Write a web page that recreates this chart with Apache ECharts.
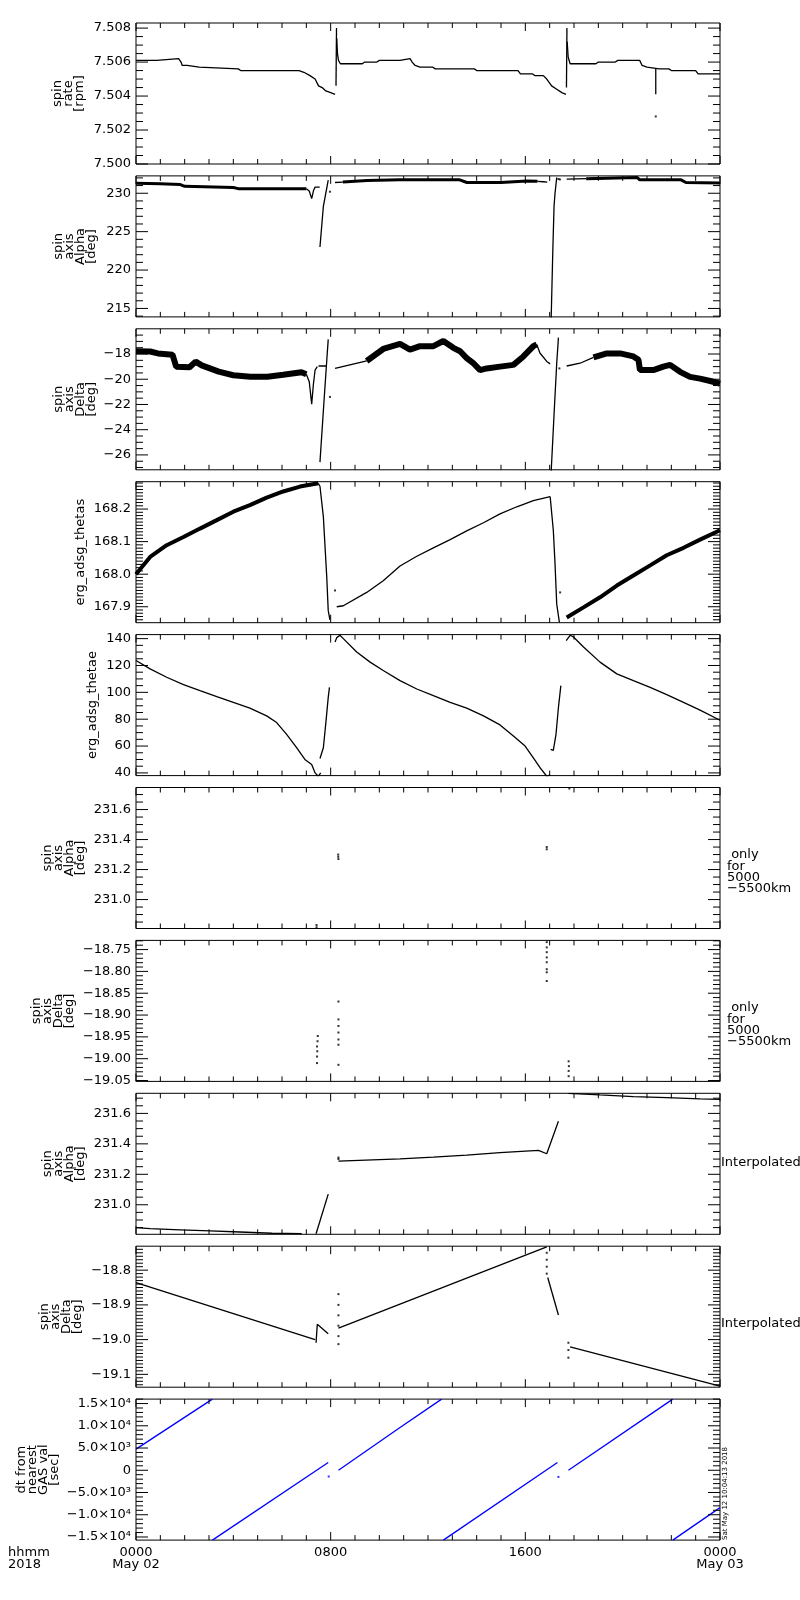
<!DOCTYPE html>
<html>
<head>
<meta charset="utf-8">
<title>ERG spin axis 2018-05-02</title>
<script src="https://cdn.jsdelivr.net/npm/echarts@6.0.0/dist/echarts.min.js"></script>
<style>
  html, body { margin: 0; padding: 0; background: #fff; }
  #main { width: 800px; height: 1600px; }
</style>
</head>
<body>
<div id="main"></div>
<script>
// x axis: hours since 0000 May 02 2018
var hourTicks = [0, 8, 16, 24];
var hourLabels = ['0000\nMay 02', '0800', '1600', '0000\nMay 03'];

// panel 1: spin rate [rpm]
var rateTicks = [7.500, 7.502, 7.504, 7.506, 7.508];
var rateLine = [
  [[0, 7.5061], [0.85, 7.5061], [0.9, 7.5062], [1.75, 7.5062], [1.85, 7.5060], [1.9, 7.5058], [2.1, 7.5058], [2.15, 7.5057], [2.6, 7.5057], [2.65, 7.5056], [4.2, 7.5056], [4.3, 7.5055], [6.7, 7.5055], [6.9, 7.5054], [7.15, 7.5052], [7.36, 7.5050], [7.5, 7.5046], [7.65, 7.5045], [7.8, 7.5043], [8.0, 7.5042], [8.18, 7.5041]],
  [[8.22, 7.5046], [8.24, 7.5080]],
  [[8.25, 7.5074], [8.28, 7.5065], [8.32, 7.5061], [8.4, 7.5059], [9.3, 7.5059], [9.4, 7.5060], [9.9, 7.5060], [10.0, 7.5061], [10.85, 7.5061], [10.9, 7.5062], [11.26, 7.5062], [11.35, 7.5060], [11.47, 7.5058], [11.67, 7.5057], [12.2, 7.5057], [12.3, 7.5056], [13.9, 7.5056], [14.0, 7.5055], [15.7, 7.5055], [15.8, 7.5053], [16.3, 7.5053], [16.4, 7.5052], [16.74, 7.5052], [16.88, 7.5050], [17.08, 7.5046], [17.29, 7.5044], [17.5, 7.5042], [17.67, 7.5041]],
  [[17.69, 7.5045], [17.71, 7.5080]],
  [[17.72, 7.5072], [17.76, 7.5063], [17.84, 7.5059], [18.9, 7.5059], [19.0, 7.5060], [19.7, 7.5060], [19.8, 7.5061], [20.7, 7.5061], [20.8, 7.5058], [21.0, 7.5057], [21.5, 7.5056], [21.9, 7.5056], [22.0, 7.5055], [23.0, 7.5055], [23.1, 7.5053], [24, 7.5053]],
  [[21.36, 7.5056], [21.36, 7.5041]]
];
var rateDots = [[21.36, 7.5028]];

// panel 2: spin axis Alpha [deg]
var alphaTicks = [215, 220, 225, 230];
var alphaBand = [
  [[0, 231.3], [1.0, 231.25], [1.8, 231.15], [2.0, 230.9], [4.0, 230.75], [4.2, 230.6], [7.0, 230.6]],
  [[8.5, 231.45], [9.5, 231.65], [10.85, 231.75], [13.3, 231.75], [13.6, 231.4], [15.0, 231.4], [16.06, 231.6], [16.5, 231.55]],
  [[18.5, 231.9], [18.55, 232.05], [20.6, 232.05], [20.7, 231.75], [22.4, 231.75], [22.6, 231.4], [24, 231.35]]
];
var alphaLine = [
  [[7.0, 230.6], [7.12, 230.3], [7.22, 229.3], [7.3, 230.4], [7.36, 230.8], [7.55, 230.8]],
  [[7.56, 223.0], [7.7, 228.3], [7.9, 231.7]],
  [[8.18, 231.4], [8.5, 231.45]],
  [[16.5, 231.55], [16.74, 231.5], [16.9, 231.45]],
  [[17.06, 213.5], [17.13, 222.6], [17.18, 228.3], [17.22, 230.0], [17.29, 232.05]],
  [[17.7, 231.85], [18.5, 231.9]]
];
var alphaDots = [[7.97, 230.2], [17.36, 231.85], [17.42, 231.8]];

// panel 3: spin axis Delta [deg]
var deltaTicks = [-26, -24, -22, -20, -18];
var deltaBand = [
  [[0, -17.78], [0.58, -17.8], [0.9, -17.95], [1.5, -18.05], [1.65, -19.0], [2.2, -19.05], [2.45, -18.6], [2.7, -18.9], [3.4, -19.4], [4.0, -19.68], [4.7, -19.8], [5.4, -19.8], [6.05, -19.65], [6.8, -19.45], [7.0, -19.6]],
  [[9.48, -18.55], [10.16, -17.6], [10.85, -17.2], [11.26, -17.65], [11.67, -17.38], [12.22, -17.38], [12.63, -16.97], [13.04, -17.51], [13.32, -17.78], [13.59, -18.32], [13.86, -18.73], [14.14, -19.27], [14.41, -19.14], [14.96, -19.0], [15.51, -18.86], [15.92, -18.19], [16.33, -17.38], [16.47, -17.24]],
  [[18.8, -18.27], [19.35, -17.95], [19.9, -17.95], [20.44, -18.19], [20.65, -18.46], [20.71, -19.27], [21.26, -19.27], [21.67, -19.0], [21.95, -18.86], [22.36, -19.41], [22.77, -19.81], [23.18, -19.95], [23.6, -20.14], [24, -20.35]]
];
var deltaLine = [
  [[7.0, -19.6], [7.12, -20.2], [7.22, -21.97], [7.29, -20.4], [7.36, -19.27], [7.45, -19.0]],
  [[7.5, -18.95], [7.84, -18.95]],
  [[7.56, -26.57], [7.7, -22.5], [7.84, -18.5], [7.9, -16.84]],
  [[8.18, -19.14], [8.79, -18.86], [9.48, -18.55]],
  [[16.47, -17.24], [16.6, -17.92], [16.88, -18.59], [17.02, -18.78]],
  [[17.06, -27.4], [17.18, -22.8], [17.29, -18.73], [17.36, -16.7]],
  [[17.7, -18.95], [18.25, -18.73], [18.8, -18.27]]
];
var deltaDots = [[7.97, -21.4], [17.4, -19.14]];

// panel 4: erg_adsg_thetas
var thetasTicks = [167.9, 168.0, 168.1, 168.2];
var thetasBand = [
  [[0, 168.0], [0.58, 168.053], [1.26, 168.089], [1.95, 168.114], [2.63, 168.14], [3.32, 168.166], [4.0, 168.192], [4.68, 168.212], [5.37, 168.235], [6.05, 168.254], [6.74, 168.269], [7.49, 168.279]],
  [[17.7, 167.867], [18.39, 167.898], [19.07, 167.929], [19.76, 167.965], [20.44, 167.996], [21.13, 168.027], [21.81, 168.058], [22.5, 168.081], [23.18, 168.106], [24, 168.135]]
];
var thetasLine = [
  [[7.49, 168.279], [7.56, 168.27], [7.7, 168.176], [7.84, 167.99], [7.9, 167.888], [7.97, 167.86]],
  [[8.25, 167.9], [8.52, 167.903], [9.48, 167.944], [10.16, 167.98], [10.85, 168.025], [11.54, 168.055], [12.22, 168.081], [12.91, 168.106], [13.59, 168.133], [14.28, 168.158], [14.96, 168.185], [15.65, 168.207], [16.33, 168.226], [17.02, 168.238]],
  [[17.02, 168.238], [17.08, 168.233], [17.15, 168.135], [17.22, 168.032], [17.29, 167.908], [17.4, 167.852]]
];
var thetasDots = [[8.18, 167.95], [17.43, 167.944]];

// panel 5: erg_adsg_thetae
var thetaeTicks = [40, 60, 80, 100, 120, 140];
var thetaeLine = [
  [[0, 123.75], [0.58, 117.5], [1.26, 111.25], [1.95, 105.75], [2.63, 101.25], [3.32, 96.75], [4.0, 92.5], [4.68, 88.25], [5.37, 82.5], [5.78, 77.5], [6.19, 68.75], [6.6, 58.75], [6.94, 50], [7.22, 46.25], [7.36, 40], [7.49, 37.5], [7.59, 40]],
  [[7.56, 50.75], [7.63, 51.25], [7.7, 58.75], [7.81, 78.75], [7.9, 96.25], [7.95, 103.75]],
  [[8.18, 137.5], [8.25, 140.75], [8.38, 142.5], [8.52, 140], [9.07, 130], [9.62, 122.5], [10.16, 116.25], [10.85, 108.75], [11.54, 102.5], [12.22, 97.5], [12.91, 92.5], [13.59, 88.25], [14.28, 82.5], [14.96, 75.75], [15.51, 67.5], [15.99, 60], [16.33, 51.25], [16.61, 43.75], [16.88, 37.5], [17.02, 38.5]],
  [[17.04, 57.5], [17.15, 56.75], [17.26, 68.75], [17.36, 88.75], [17.46, 105]],
  [[17.68, 138.5], [17.84, 142.5], [17.98, 141.25], [18.39, 133.75], [19.07, 122.5], [19.76, 113.75], [20.44, 108.75], [21.13, 103.75], [21.81, 98.25], [22.5, 92.5], [23.18, 86.75], [24, 79.25]]
];

// panel 6: spin axis Alpha, only for 5000-5500km
var onlyAlphaTicks = [231.0, 231.2, 231.4, 231.6];
var onlyAlphaDots = [[7.42, 230.815], [7.42, 230.83], [8.31, 231.3], [8.31, 231.285], [8.32, 231.27], [16.88, 231.35], [16.88, 231.335], [17.81, 231.74]];

// panel 7: spin axis Delta, only for 5000-5500km
var onlyDeltaTicks = [-19.05, -19.00, -18.95, -18.90, -18.85, -18.80, -18.75];
var onlyDeltaDots = [[7.47, -18.948], [7.46, -18.96], [7.44, -18.972], [7.45, -18.983], [7.44, -18.995], [7.44, -19.01], [8.32, -18.869], [8.32, -18.91], [8.32, -18.925], [8.32, -18.94], [8.32, -18.956], [8.32, -18.968], [8.32, -19.014], [16.88, -18.733], [16.88, -18.745], [16.88, -18.756], [16.88, -18.768], [16.88, -18.779], [16.88, -18.795], [16.88, -18.802], [16.88, -18.822], [17.78, -19.006], [17.79, -19.017], [17.78, -19.028], [17.78, -19.04]];

// panel 8: spin axis Alpha, interpolated
var interpAlphaTicks = [231.0, 231.2, 231.4, 231.6];
var interpAlphaLine = [
  [[0, 230.85], [0.58, 230.843], [1.81, 230.835], [3.04, 230.828], [4.27, 230.821], [5.58, 230.813], [6.81, 230.81]],
  [[7.4, 230.81], [7.9, 231.07]],
  [[8.32, 231.287], [10.85, 231.302], [12.22, 231.313], [13.59, 231.326], [14.96, 231.342], [16.54, 231.357], [16.88, 231.335], [17.36, 231.549]],
  [[17.77, 231.732], [19.07, 231.721], [20.44, 231.71], [21.81, 231.703], [23.18, 231.695], [24, 231.692]]
];
var interpAlphaDots = [[8.32, 231.31], [8.32, 231.3]];

// panel 9: spin axis Delta, interpolated
var interpDeltaTicks = [-19.1, -19.0, -18.9, -18.8];
var interpDeltaLine = [
  [[0, -18.836], [7.36, -19.0]],
  [[7.4, -19.009], [7.45, -18.956], [7.9, -18.983]],
  [[8.32, -18.967], [10.85, -18.898], [16.88, -18.733]],
  [[16.92, -18.821], [17.36, -18.929]],
  [[17.84, -19.021], [24, -19.134]]
];
var interpDeltaDots = [[8.32, -18.869], [8.32, -18.9], [8.32, -18.93], [8.32, -18.96], [8.32, -18.99], [8.32, -19.013], [16.88, -18.75], [16.88, -18.77], [16.88, -18.79], [16.88, -18.81], [17.77, -19.009], [17.77, -19.03], [17.77, -19.052]];

// panel 10: dt from nearest GAS val [sec]
var dtTicks = [-15000, -10000, -5000, 0, 5000, 10000, 15000];
var dtTickLabels = ['\u22121.5\u00d710\u2074', '\u22121.0\u00d710\u2074', '\u22125.0\u00d710\u00b3', '0', '5.0\u00d710\u00b3', '1.0\u00d710\u2074', '1.5\u00d710\u2074'];
var dtLine = [
  [[0, 4750], [3.14, 16000]],
  [[3.14, -15700], [7.9, 1730]],
  [[8.32, 0], [10.85, 9600], [12.56, 16000]],
  [[12.63, -15700], [17.32, 1730]],
  [[17.77, 0], [22.06, 16000]],
  [[22.06, -15700], [24, -8400]]
];
var dtDots = [[7.92, -1400], [17.36, -1500]];

var FONT = '"DejaVu Sans", sans-serif';

var panels = [
  { min: 7.5, max: 7.5083, ticks: rateTicks, sub: 4, dec: 3, title: 'spin\nrate\n[rpm]', titleX: 85, lines: rateLine, dots: rateDots },
  { min: 213.9, max: 232.26, ticks: alphaTicks, sub: 5, dec: 0, title: 'spin\naxis\nAlpha\n[deg]', titleX: 97, lines: alphaLine, bands: alphaBand, bandW: 3, dots: alphaDots },
  { min: -27.18, max: -16.0, ticks: deltaTicks, sub: 4, dec: 0, title: 'spin\naxis\nDelta\n[deg]', titleX: 97, lines: deltaLine, bands: deltaBand, bandW: 6, dots: deltaDots },
  { min: 167.851, max: 168.284, ticks: thetasTicks, sub: 10, dec: 1, title: 'erg_adsg_thetas', titleX: 86, lines: thetasLine, bands: thetasBand, bandW: 4, dots: thetasDots },
  { min: 38.0, max: 143.0, ticks: thetaeTicks, sub: 4, dec: 0, title: 'erg_adsg_thetae', titleX: 98, lines: thetaeLine },
  { min: 230.807, max: 231.747, ticks: onlyAlphaTicks, sub: 4, dec: 1, title: 'spin\naxis\nAlpha\n[deg]', titleX: 86, dots: onlyAlphaDots, note: ' only\nfor\n5000\n\u22125500km', noteY: 872 },
  { min: -19.052, max: -18.729, ticks: onlyDeltaTicks, sub: 5, dec: 2, title: 'spin\naxis\nDelta\n[deg]', titleX: 75, dots: onlyDeltaDots, note: ' only\nfor\n5000\n\u22125500km', noteY: 1025 },
  { min: 230.806, max: 231.732, ticks: interpAlphaTicks, sub: 4, dec: 1, title: 'spin\naxis\nAlpha\n[deg]', titleX: 86, lines: interpAlphaLine, dots: interpAlphaDots, note: 'Interpolated', noteY: 1163, noteX: 721 },
  { min: -19.137, max: -18.731, ticks: interpDeltaTicks, sub: 10, dec: 1, title: 'spin\naxis\nDelta\n[deg]', titleX: 83, lines: interpDeltaLine, dots: interpDeltaDots, note: 'Interpolated', noteY: 1324, noteX: 721 },
  { min: -15700, max: 16000, ticks: dtTicks, sub: 5, labels: dtTickLabels, title: 'dt from\nnearest\nGAS val\n[sec]', titleX: 60, lines: dtLine, dots: dtDots, color: '#0000ff' }
];

var TOP0 = 23, PITCH = 152.9, PLOT_H = 141, PLOT_W = 584;
var X_MIN = hourTicks[0], X_MAX = hourTicks[hourTicks.length - 1];

// minor tick positions between the labelled ticks
function minorValues(ticks, sub, min, max) {
    var step = (ticks[1] - ticks[0]) / sub;
    var out = [];
    var n0 = Math.ceil((min - ticks[0]) / step - 1e-6);
    var n1 = Math.floor((max - ticks[0]) / step + 1e-6);
    for (var n = n0; n <= n1; n++) {
        if (n % sub !== 0) out.push(+(ticks[0] + n * step).toFixed(6));
    }
    return out;
}
var hourMinor = minorValues(hourTicks, 8, X_MIN, X_MAX);

function tickLabel(p, v) {
    for (var k = 0; k < p.ticks.length; k++) {
        if (Math.abs(p.ticks[k] - v) < 1e-9) {
            if (p.labels) return p.labels[k];
            return p.ticks[k].toFixed(p.dec).replace('-', '\u2212');
        }
    }
    return '';
}

// inward IDL-style ticks on all four sides, as short broken segments of one line series
function tickSegments(p) {
    var out = [];
    var dx = (X_MAX - X_MIN) / PLOT_W, dy = (p.max - p.min) / PLOT_H;
    function seg(a, b) { out.push(a, b, [null, null]); }
    function yTick(v, len) {
        seg([X_MIN, v], [X_MIN + len * dx, v]);
        seg([X_MAX, v], [X_MAX - len * dx, v]);
    }
    function xTick(h, len) {
        seg([h, p.min], [h, p.min + len * dy]);
        seg([h, p.max], [h, p.max - len * dy]);
    }
    p.ticks.forEach(function (v) { yTick(v, 12); });
    minorValues(p.ticks, p.sub, p.min, p.max).forEach(function (v) { yTick(v, 7); });
    hourTicks.forEach(function (h) { xTick(h, 8); });
    hourMinor.forEach(function (h) { xTick(h, 5); });
    return out;
}

var grids = [], xAxes = [], yAxes = [], series = [], graphics = [];

panels.forEach(function (p, i) {
    var top = TOP0 + i * PITCH;
    var color = p.color || '#000';
    grids.push({ left: 136, right: 80, top: top, height: PLOT_H, show: true, borderColor: '#000', borderWidth: 1, backgroundColor: 'transparent' });

    xAxes.push({
        gridIndex: i, type: 'value', position: 'bottom', min: X_MIN, max: X_MAX, interval: 8,
        axisLine: { show: false, onZero: false },
        axisTick: { show: false },
        splitLine: { show: false },
        axisLabel: {
            show: i === panels.length - 1,
            margin: 7, color: '#000', fontFamily: FONT, fontSize: 13, lineHeight: 12,
            formatter: function (v) { return hourLabels[hourTicks.indexOf(v)] || ''; }
        }
    });
    yAxes.push({
        gridIndex: i, type: 'value', position: 'left', min: p.min, max: p.max,
        axisLine: { show: false, onZero: false },
        axisTick: { show: false },
        splitLine: { show: false },
        axisLabel: {
            customValues: p.ticks, margin: 5,
            color: '#000', fontFamily: FONT, fontSize: 13,
            formatter: function (v) { return tickLabel(p, v); }
        }
    });

    series.push({
        type: 'line', xAxisIndex: i, yAxisIndex: i, data: tickSegments(p),
        showSymbol: false, connectNulls: false, clip: false,
        lineStyle: { color: '#000', width: 1 }, silent: true, z: 5
    });

    (p.bands || []).forEach(function (seg) {
        series.push({
            type: 'line', xAxisIndex: i, yAxisIndex: i, data: seg,
            showSymbol: false, lineStyle: { color: color, width: p.bandW }, silent: true
        });
    });
    (p.lines || []).forEach(function (seg) {
        series.push({
            type: 'line', xAxisIndex: i, yAxisIndex: i, data: seg,
            showSymbol: false, lineStyle: { color: color, width: 1.3 }, silent: true
        });
    });
    if (p.dots) {
        series.push({
            type: 'scatter', xAxisIndex: i, yAxisIndex: i, data: p.dots,
            symbol: 'rect', symbolSize: 2, itemStyle: { color: color }, silent: true
        });
    }

    // y title, rotated, block ending at titleX
    graphics.push({
        type: 'text', x: p.titleX, y: top + PLOT_H / 2, rotation: Math.PI / 2,
        style: { text: p.title, font: '13px ' + FONT, fill: '#000', align: 'center', verticalAlign: 'bottom', lineHeight: 11 }
    });
    if (p.note) {
        graphics.push({
            type: 'text', x: p.noteX || 727, y: p.noteY,
            style: { text: p.note, font: '13px ' + FONT, fill: '#000', align: 'left', verticalAlign: 'middle', lineHeight: 11.3 }
        });
    }
});

graphics.push({
    type: 'text', x: 8, y: 1547,
    style: { text: 'hhmm\n2018', font: '13px ' + FONT, fill: '#000', align: 'left', verticalAlign: 'top', lineHeight: 12 }
});
graphics.push({
    type: 'text', x: 725, y: 1493.5, rotation: Math.PI / 2,
    style: { text: 'Sat May 12 10:04:13 2018', font: '7px ' + FONT, fill: '#000', align: 'center', verticalAlign: 'middle' }
});

var myChart = echarts.init(document.getElementById('main'));
var option = {
    backgroundColor: '#fff',
    animation: false,
    grid: grids,
    xAxis: xAxes,
    yAxis: yAxes,
    series: series,
    graphic: graphics
};
myChart.setOption(option);
</script>
</body>
</html>
